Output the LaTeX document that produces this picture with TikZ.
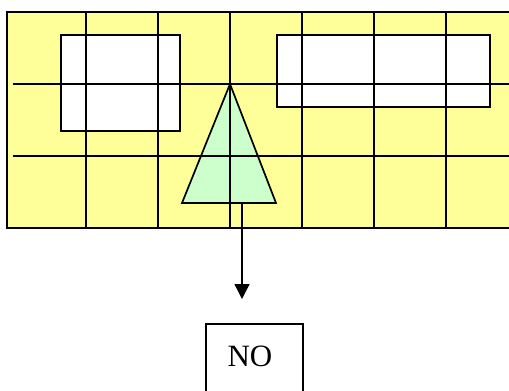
\documentclass[tikz,border=0pt]{standalone}
\usepackage{fontspec}
\setmainfont{Liberation Serif}
\usetikzlibrary{arrows.meta}
\definecolor{cellyellow}{HTML}{FFFF99}
\definecolor{trigreen}{HTML}{CCFFCC}
\begin{document}
\begin{tikzpicture}[x=1pt,y=-1pt,
  gridline/.style={line width=1.7pt, black},
  hole/.style={fill=white, draw=black, line width=1.7pt},
  boxnode/.style={draw=black, line width=1.5pt, minimum width=97pt, minimum height=80pt, inner sep=0pt},
  conn/.style={line width=1.4pt, -{Triangle[length=15pt,width=15pt]}}]
\useasboundingbox (0,0) rectangle (509,391);
% background field
\fill[cellyellow] (7,12) rectangle (512,228);
% white holes
\draw[hole] (61,35) rectangle (180,131);
\draw[hole] (277,35) rectangle (490,107);
% triangle
\draw[fill=trigreen, line width=1.7pt, line join=miter] (230,84) -- (276,203) -- (182,203) -- cycle;
% grid
\foreach \x in {86,158,230,302,374,446} \draw[gridline] (\x,12) -- (\x,228);
\foreach \y in {84,156} \draw[gridline] (13,\y) -- (512,\y);
\draw[gridline] (512,12) -- (7,12) -- (7,228) -- (512,228);
% connector
\coordinate (base) at (242,203);
\coordinate (tip) at (242,299);
\node[boxnode, anchor=north west] (no) at (205,323) {};
\node[font=\fontsize{31}{31}\selectfont] (notext) at (250,356) {NO};
\draw[conn] (base) -- (tip);
\end{tikzpicture}
\end{document}
